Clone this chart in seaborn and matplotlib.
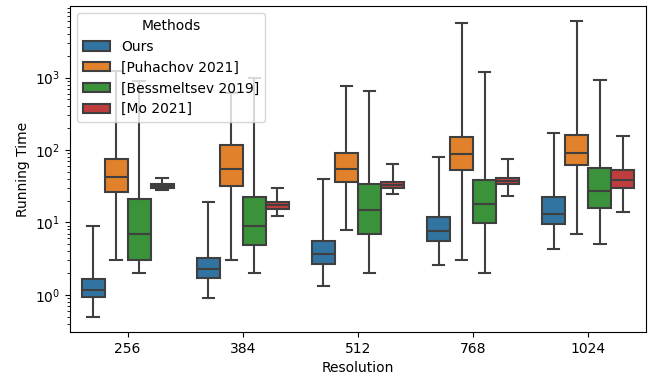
import pandas as pd
import matplotlib
matplotlib.use("Agg")
import matplotlib.pyplot as plt
import seaborn as sns

resolutions = ["256", "384", "512", "768", "1024"]
methods = ["Ours", "[Puhachov 2021]", "[Bessmeltsev 2019]", "[Mo 2021]"]
colors = ["#3274a1", "#e1812c", "#3a923a", "#c03d3e"]

# five-number summaries (min, q1, median, q3, max) per resolution
ours = [
    [0.49, 0.93, 1.15, 1.66, 8.97],
    [0.89, 1.70, 2.24, 3.17, 19.4],
    [1.32, 2.62, 3.60, 5.50, 39.9],
    [2.54, 5.57, 7.65, 11.9, 80.4],
    [4.32, 9.46, 13.1, 22.1, 169],
]
puhachov = [
    [2.98, 25.9, 42.6, 75.5, 1238],
    [2.98, 32.0, 54.3, 116, 621],
    [7.89, 35.9, 54.9, 91.3, 760],
    [2.98, 53.2, 86.6, 149, 5630],
    [6.88, 62.4, 91.3, 162, 6066],
]
bessmeltsev = [
    [1.97, 2.98, 6.95, 20.9, 900],
    [1.97, 4.90, 8.87, 22.5, 980],
    [1.97, 6.88, 14.8, 34.1, 648],
    [1.97, 9.86, 18.0, 37.9, 1186],
    [4.95, 15.7, 27.0, 56.1, 939],
]
mo = [
    [27.9, 30.0, 32.0, 34.1, 40.8],
    [12.3, 15.4, 17.5, 19.2, 29.4],
    [24.3, 29.4, 33.0, 35.6, 65.0],
    [22.8, 34.1, 37.1, 40.4, 74.7],
    [13.8, 29.7, 37.9, 52.1, 157],
]

rows = []
for name, series in zip(methods, [ours, puhachov, bessmeltsev, mo]):
    for res, vals in zip(resolutions, series):
        for v in vals:
            rows.append({"Resolution": res, "Running Time": v, "Methods": name})
df = pd.DataFrame(rows)

fig, ax = plt.subplots(figsize=(6.55, 3.79), dpi=100)
sns.boxplot(
    data=df,
    x="Resolution",
    y="Running Time",
    hue="Methods",
    order=resolutions,
    hue_order=methods,
    palette=colors,
    saturation=1,
    whis=(0, 100),
    linewidth=1.5,
    linecolor="#3f3f3f",
    log_scale=True,
    ax=ax,
)
ax.legend(title="Methods", loc="upper left")
fig.subplots_adjust(left=0.107, right=0.986, top=0.984, bottom=0.124)
plt.savefig("out.png", dpi=100)
